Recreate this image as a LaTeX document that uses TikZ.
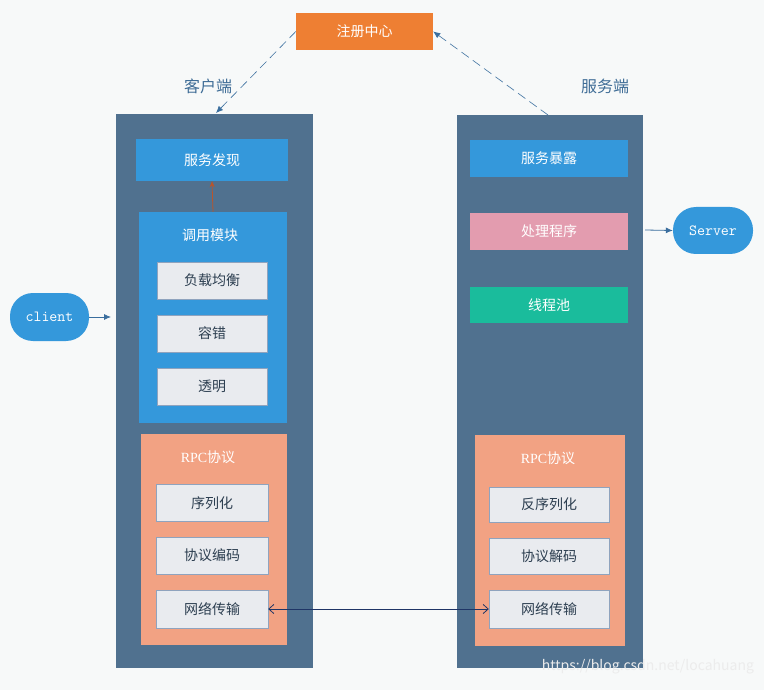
\documentclass[tikz,border=0pt]{standalone}
\usepackage{fontspec}
\setmainfont{Noto Sans CJK SC}
\newfontfamily\latinfont{Liberation Serif}
\usetikzlibrary{arrows.meta}
\definecolor{bgcol}{HTML}{F7F9F9}
\definecolor{slate}{HTML}{50718F}
\definecolor{skyblue}{HTML}{3498DB}
\definecolor{orangereg}{HTML}{EE7F33}
\definecolor{salmon}{HTML}{F2A283}
\definecolor{pinkbox}{HTML}{E39CAF}
\definecolor{greenbox}{HTML}{1ABC9C}
\definecolor{subfill}{HTML}{E9EBEF}
\definecolor{subline}{HTML}{8FA3BE}
\definecolor{darktext}{HTML}{2C3E50}
\definecolor{labelblue}{HTML}{3E6C96}
\definecolor{dashblue}{HTML}{3A6E9E}
\definecolor{brownarrow}{HTML}{B9552B}
\definecolor{navy}{HTML}{1F3566}

\begin{document}
\begin{tikzpicture}[x=1pt,y=-1pt,
   box/.style={inner sep=0pt, text=white, font=\fontsize{14}{16}\selectfont},
   subbox/.style={draw=subline, fill=subfill, inner sep=0pt, text=darktext,
      minimum height=37pt, font=\fontsize{14}{16}\selectfont},
   pill/.style={fill=skyblue, rounded corners=23pt, inner sep=0pt, text=white,
      font=\ttfamily\fontsize{15.5}{17}\selectfont},
   side/.style={text=labelblue, font=\fontsize{16}{18}\selectfont},
   regline/.style={dashblue, semithick, dash pattern=on 9pt off 5pt, -{Latex[length=7pt,width=6pt]}}]
%
\fill [bgcol] (0,0) rectangle (764,690);
%
       \node [box,fill=orangereg,minimum width=137pt,minimum height=37pt] at (364.5,31.5) (reg) {注册中心};
          \node [side] at (208,86) (cside) {客户端};
          \node [side] at (605,86) (sside) {服务端};
%
             \node [fill=slate,minimum width=197pt,minimum height=554pt,inner sep=0pt] at (214.5,391) (ccol) {};
             \node [fill=slate,minimum width=186pt,minimum height=553pt,inner sep=0pt] at (550,391.5) (scol) {};
%
                \node [box,fill=skyblue,minimum width=152pt,minimum height=42pt] at (212,160) (disc) {服务发现};
                \node [fill=skyblue,minimum width=148pt,minimum height=211pt,inner sep=0pt] at (213,317.5) (call) {};
                \node [box] at (210,235) (call title) {调用模块};
                \node [subbox,minimum width=110pt] at (212,280.5) (lb) {负载均衡};
                \node [subbox,minimum width=110pt] at (212,333.5) (ft) {容错};
                \node [subbox,minimum width=110pt] at (212,386.5) (tr) {透明};
%
                  \node [fill=salmon,minimum width=146pt,minimum height=211pt,inner sep=0pt] at (214,539.5) (rpc c) {};
                  \node [box] at (208,457) (rpc c title) {{\latinfont RPC}协议};
                  \node [subbox,minimum width=112pt] at (212,503) (ser) {序列化};
                  \node [subbox,minimum width=112pt] at (212,555.5) (enc) {协议编码};
                  \node [subbox,minimum width=112pt,minimum height=38pt] at (212,609) (net c) {网络传输};
%
                   \node [box,fill=skyblue,minimum width=158pt,minimum height=37pt] at (549,158.5) (expo) {服务暴露};
                   \node [box,fill=pinkbox,minimum width=158pt,minimum height=37pt] at (549,231.5) (proc) {处理程序};
                   \node [box,fill=greenbox,minimum width=158pt,minimum height=36pt] at (549,305) (pool) {线程池};
%
                    \node [fill=salmon,minimum width=150pt,minimum height=211pt,inner sep=0pt] at (550,540.5) (rpc s) {};
                    \node [box] at (548,458) (rpc s title) {{\latinfont RPC}协议};
                    \node [subbox,minimum width=120pt,minimum height=35pt] at (549,504.5) (des) {反序列化};
                    \node [subbox,minimum width=120pt,minimum height=36pt] at (549,556) (dec) {协议解码};
                    \node [subbox,minimum width=120pt,minimum height=38pt] at (549,609) (net s) {网络传输};
%
             \node [pill,minimum width=79pt,minimum height=48pt] at (49.5,317) (client) {client};
             \node [pill,minimum width=80pt,minimum height=47pt] at (713,230.5) (server) {Server};
%
\node [text=white!85!gray,font=\fontsize{14}{16}\selectfont] at (648,667) (mark) {https://blog.csdn.net/locahuang};
%
\coordinate (cin) at (216,113);
\coordinate (sout) at (548,115);
\coordinate (cleft) at (111,317);
\coordinate (sright) at (645,230);
%
\path[regline] (reg.west) edge (cin);
\path[regline] (sout) edge (reg.east);
\path[->,brownarrow,thick,>={Stealth[length=6pt,width=5pt]}] (call.north) edge (disc.south);
\path[->,dashblue,thick,>={Latex[length=7pt,width=6pt]}] (client.east) edge (cleft);
\path[->,dashblue,thick,>={Latex[length=7pt,width=6pt]}] (sright) edge (server.west);
\path[<->,navy,thick,>={Straight Barb[length=5pt,width=9pt]}] (net c.east) edge (net s.west);

\end{tikzpicture}
\end{document}
